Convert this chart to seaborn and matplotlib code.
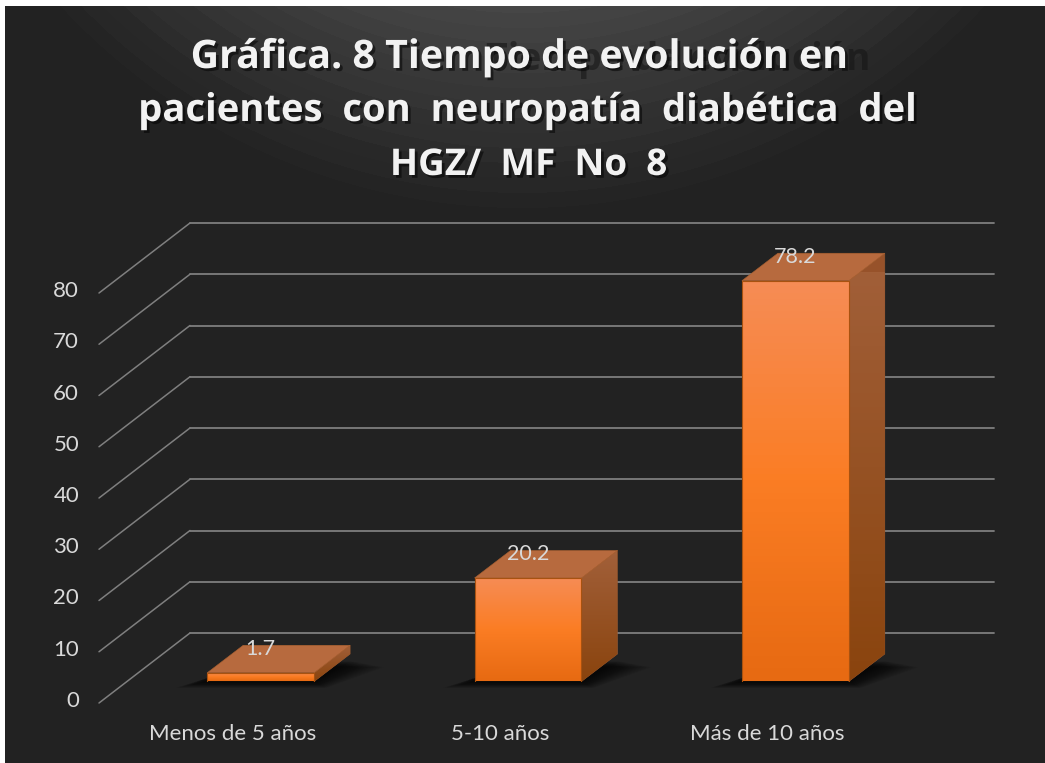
import matplotlib
matplotlib.use('Agg')
import matplotlib.pyplot as plt
import matplotlib.patheffects as pe
from matplotlib.colors import LinearSegmentedColormap
from matplotlib.patches import Polygon
from matplotlib.transforms import Affine2D
import numpy as np
import pandas as pd
import seaborn as sns

categories = ['Menos de 5 años', '5-10 años', 'Más de 10 años']
values = [1.7, 20.2, 78.2]
y_ticks = [0, 10, 20, 30, 40, 50, 60, 70, 80]
title_lines = ['Gráfica. 8 Tiempo de evolución en',
               'pacientes  con  neuropatía  diabética  del',
               'HGZ/  MF  No  8']

W, H = 1045, 763
TEXT = '#d9d9d9'
LINE = '#7f7f7f'

sns.set_theme(style='white')
plt.rcParams['font.family'] = ['Lato', 'DejaVu Sans']

fig = plt.figure(figsize=(W / 100, H / 100), dpi=100, facecolor='white')

# dark background with the soft arcs coming from the top
bg = fig.add_axes([5 / W, 0, 1040 / W, 757 / H])
bg.axis('off')
xx, yy = np.meshgrid(np.arange(5, 1045), np.arange(6, 763))
dist = np.hypot(xx - 522, yy + 422)
shade = np.clip((637 - dist) / 210, 0, 1)
shade = np.round(shade * 14) / 14
grey = (0x22 + shade * (0x46 - 0x22)) / 255
bg.imshow(grey, cmap='gray', vmin=0, vmax=1, aspect='auto', interpolation='bilinear')

# this axes is the plane the front of the bars stand on
ax = fig.add_axes([127 / W, (H - 681.5) / H, 802 / W, 410 / H])
ax.patch.set_alpha(0)
df = pd.DataFrame({'cat': categories, 'val': values})
sns.barplot(data=df, x='cat', y='val', color='#f47b20', saturation=1, width=0.4, ax=ax, zorder=5)
ax.set_xlim(-0.5, 2.5)
ax.set_ylim(0, 80)
ax.set_xlabel('')
ax.set_ylabel('')
sns.despine(ax=ax, left=True, bottom=True)

# depth of the fake 3d box, pixels
back = Affine2D().translate(63, 48.5)
front = Affine2D().translate(-28, -21.5)
back_tr = ax.transData + back
front_tr = ax.transData + front
for t in y_ticks:
    ax.plot([-0.5, 2.507], [t, t], color=LINE, lw=1.3, transform=back_tr, clip_on=False, zorder=1)
    p0 = front_tr.transform((-0.5, t))
    p1 = back_tr.transform((-0.5, t))
    ax.plot([p0[0], p1[0]], [p0[1], p1[1]], color=LINE, lw=1.1, transform=None, clip_on=False, zorder=1)

ax.set_yticks(y_ticks)
ax.tick_params(axis='y', length=0, pad=34.5, labelsize=16, labelcolor=TEXT)
ax.tick_params(axis='x', length=0, pad=30.5, labelsize=16, labelcolor=TEXT)
for lab in ax.get_yticklabels():
    lab.set_transform(lab.get_transform() + Affine2D().translate(0, -17.5))
for lab in ax.get_xticklabels():
    lab.set_transform(lab.get_transform() + Affine2D().translate(-28, 0))

px_x = 802 / 3
px_y = 410 / 80
dx = 36 / px_x
dy = 27.5 / px_y

front_cmap = LinearSegmentedColormap.from_list('fr', ['#e76a12', '#fb7d24', '#f68c55'])
side_cmap = LinearSegmentedColormap.from_list('sd', ['#8a440e', '#a2603a'])
ramp = np.linspace(1, 0, 64).reshape(-1, 1)

for bar in ax.patches:
    x0, x1 = bar.get_x(), bar.get_x() + bar.get_width()
    h = bar.get_height()
    # blurred shadow on the floor
    for m in range(1, 17):
        mx = m * 1.5 / px_x
        my = m * 0.4 / px_y
        ax.add_patch(Polygon([(x0 - mx * 1.3, -my), (x1 + mx * 0.5, -my),
                              (x1 + dx + mx * 1.4, dy * 0.75 - my), (x0 + dx, dy * 0.75 - my)],
                             fc='black', ec='none', alpha=0.065, zorder=2, clip_on=False))
    bar.set_facecolor('none')
    bar.set_edgecolor('#a85210')
    bar.set_linewidth(0.8)
    im = ax.imshow(ramp, extent=[x0, x1, 0, h], cmap=front_cmap, aspect='auto', zorder=4)
    im.set_clip_path(bar)
    side = Polygon([(x1, 0), (x1 + dx, dy), (x1 + dx, h + dy), (x1, h)], fc='#97522a', ec='#9a5a30', lw=0.4, zorder=3, clip_on=False)
    ax.add_patch(side)
    diag = np.linspace(0, 1, 64).reshape(-1, 1)[::-1]
    im2 = ax.imshow(diag, extent=[x1, x1 + dx, 0, h + dy], cmap=side_cmap, aspect='auto', zorder=3.5)
    im2.set_clip_path(side)
    ax.add_patch(Polygon([(x0, h), (x1, h), (x1 + dx, h + dy), (x0 + dx, h + dy)],
                         fc='#b76a3e', ec='#a9602f', lw=0.4, zorder=4.5, clip_on=False))

ax.set_xlim(-0.5, 2.5)
ax.set_ylim(0, 80)
ax.set_aspect('auto')

ax.bar_label(ax.containers[0], fmt='%.1f', padding=10, color=TEXT, fontsize=15.5, zorder=6)

# ghost title behind the first line
title_font = ['Open Sans', 'DejaVu Sans']
fig.text(871 / W, 1 - 70 / H, 'Tiempo de evolución', color='#141414', fontsize=27, fontweight='bold',
         family=title_font, ha='right', va='baseline', alpha=0.55)
shadow = [pe.withSimplePatchShadow(offset=(2, -2), shadow_rgbFace='black', alpha=0.5)]
for line, base, cx, size in zip(title_lines, [68, 121, 175], [519, 528.5, 528], [28.3, 27.5, 26.5]):
    fig.text(cx / W, 1 - base / H, line, color='#f2f2f2', fontsize=size, fontweight='bold', family=title_font,
             ha='center', va='baseline', path_effects=shadow)

fig.savefig('out.png', dpi=100)
